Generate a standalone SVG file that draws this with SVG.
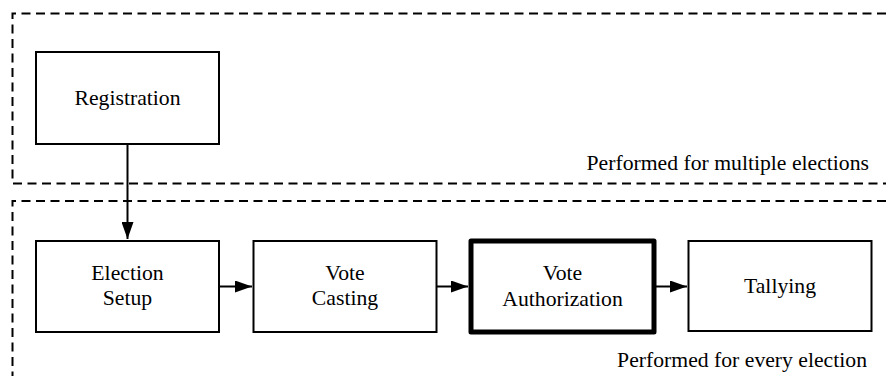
<svg xmlns="http://www.w3.org/2000/svg" width="886" height="376" viewBox="0 0 886 376">
<defs>
<style>
.frame{fill:none;stroke:#000;stroke-width:2;stroke-dasharray:9 5.5}
.box{fill:#fff;stroke:#000;stroke-width:2}
.thick{fill:#fff;stroke:#000;stroke-width:5;stroke-linejoin:round}
.lbl{font-family:'DejaVu Serif',serif;font-size:21.7px;fill:#000}
.conn{fill:none;stroke:#000;stroke-width:2}
</style>
<marker id="ah" viewBox="0 0 17 12" refX="17" refY="6" markerWidth="17" markerHeight="12" markerUnits="userSpaceOnUse" orient="auto">
<path d="M0,0 L17,6 L0,12 Z" fill="#000"/>
</marker>
</defs>
<g id="frames">
<path class="frame" d="M886,13.5 H12.5 V183.5 H886"/>
<path class="frame" d="M886,201 H12.5 V376"/>
<text class="lbl" style="font-family:'Liberation Serif';font-size:21.7px" x="869" y="170" text-anchor="end">Performed for multiple elections</text>
<text class="lbl" style="font-family:'Liberation Serif';font-size:21.7px" x="867" y="367" text-anchor="end">Performed for every election</text>
</g>
<g id="connectors">
<line class="conn" x1="127.5" y1="144" x2="127.5" y2="239" marker-end="url(#ah)"/>
<line class="conn" x1="219" y1="286.5" x2="252" y2="286.5" marker-end="url(#ah)"/>
<line class="conn" x1="436" y1="286.5" x2="468" y2="286.5" marker-end="url(#ah)"/>
<line class="conn" x1="655" y1="286.5" x2="687" y2="286.5" marker-end="url(#ah)"/>
</g>
<g id="registration">
<rect class="box" x="36" y="52" width="183" height="92"/>
<text class="lbl" style="font-family:'Liberation Serif';font-size:21.7px" x="127.5" y="105" text-anchor="middle">Registration</text>
</g>
<g id="election-setup">
<rect class="box" x="36" y="241" width="183" height="91"/>
<text class="lbl" style="font-family:'Liberation Serif';font-size:21.7px" x="127.5" y="280" text-anchor="middle">Election</text>
<text class="lbl" style="font-family:'Liberation Serif';font-size:21.7px" x="127.5" y="305" text-anchor="middle">Setup</text>
</g>
<g id="vote-casting">
<rect class="box" x="253.5" y="241" width="183" height="91"/>
<text class="lbl" style="font-family:'Liberation Serif';font-size:21.7px" x="345" y="280" text-anchor="middle">Vote</text>
<text class="lbl" style="font-family:'Liberation Serif';font-size:21.7px" x="345" y="305" text-anchor="middle">Casting</text>
</g>
<g id="vote-authorization">
<rect class="thick" x="471" y="241" width="183" height="91"/>
<text class="lbl" style="font-family:'Liberation Serif';font-size:21.7px" x="562.5" y="280" text-anchor="middle">Vote</text>
<text class="lbl" style="font-family:'Liberation Serif';font-size:21.7px" x="562.5" y="306" text-anchor="middle">Authorization</text>
</g>
<g id="tallying">
<rect class="box" x="688.5" y="241" width="183" height="90"/>
<text class="lbl" style="font-family:'Liberation Serif';font-size:21.7px" x="780" y="293" text-anchor="middle">Tallying</text>
</g>
</svg>
